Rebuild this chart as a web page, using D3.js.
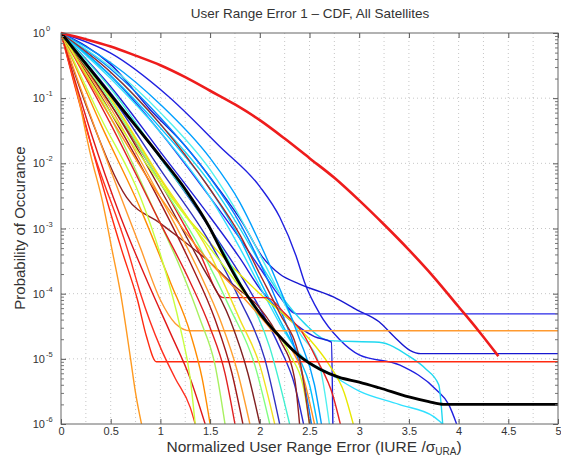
<!DOCTYPE html>
<html>
<head>
<meta charset="utf-8">
<script src="https://cdn.jsdelivr.net/npm/d3@7"></script>
<style>
  body { margin: 0; background: #fff; }
  svg { font-family: "Liberation Sans", Arial, sans-serif; }
</style>
</head>
<body>
<svg width="561" height="459"></svg>
<script>
// axis ticks
var xTicks = [0, 0.5, 1, 1.5, 2, 2.5, 3, 3.5, 4, 4.5, 5];
var xGrid = [0.25, 0.5, 0.75, 1, 1.25, 1.5, 1.75, 2, 2.25, 2.5, 2.75, 3, 3.25, 3.5, 3.75, 4, 4.25, 4.5, 4.75];
var yDecades = [1e-6, 1e-5, 1e-4, 1e-3, 1e-2, 1e-1, 1];
var yExponents = ["-6", "-5", "-4", "-3", "-2", "-1", "0"];

// theoretical gaussian curve (thick red)
var gaussX = [0, 0.25, 0.5, 0.75, 1, 1.25, 1.5, 1.75, 2, 2.25, 2.5, 2.75, 3, 3.25, 3.5, 3.75, 4, 4.2, 4.4];
var gaussP = [1, 0.8, 0.62, 0.45, 0.32, 0.21, 0.13, 0.08, 0.046, 0.024, 0.012, 0.006, 0.0027, 0.00115, 4.7e-4, 1.8e-4, 6.3e-5, 2.7e-5, 1.1e-5];

// mean of all satellites (thick black)
var meanX = [0, 0.5, 1.0, 1.25, 1.5, 1.6, 1.8, 2.0, 2.2, 2.4, 2.6, 2.8, 3.0, 3.2, 3.5, 3.7, 3.85, 5];
var meanP = [1, 0.112, 0.0126, 4e-3, 1e-3, 5e-4, 1.4e-4, 5e-5, 2.2e-5, 1.1e-5, 7e-6, 5.2e-6, 4.4e-6, 3.6e-6, 2.6e-6, 2.2e-6, 2e-6, 2e-6];

// individual satellites: colour + [x, p] points
var satColors = [
  "#2020e0", "#1818d0", "#2828e8", "#20d8f0", "#2020d8", "#30e0ff", "#00c0ff", "#2a2ad0",
  "#0080ff", "#50f0f0", "#e8e800", "#e82020", "#902020", "#ff2a10", "#ff3020", "#ff9a20",
  "#ff9a30", "#e01818", "#ff8c00", "#c8ff40", "#a8f060", "#e02020", "#a01818", "#ffa030",
  "#802020", "#80ff80", "#f0e020", "#3030c0", "#40f0d0", "#ff9020", "#d0ff30", "#00a0ff",
  "#a02828"
];
var satCurves = [
  [[0,1],[0.5,0.49],[1.07,0.11],[1.6,0.018],[2,4.4e-3],[2.2,1.5e-3],[2.37,3.6e-4],[2.45,1.5e-4],[2.6,5e-5],[2.8,2e-5],[3.0,1.15e-5],[3.41,8e-6],[3.78,3.3e-6],[3.9,2e-6],[3.98,1e-6]],
  [[0,1],[0.5,0.33],[0.9,0.066],[1.23,0.02],[1.57,4.4e-3],[1.83,1.2e-3],[2.03,3.6e-4],[2.2,2e-4],[2.4,1.4e-4],[2.74,8.9e-5],[2.98,5.6e-5],[3.2,3.7e-5],[3.35,2.2e-5],[3.51,1.35e-5],[3.62,1.2e-5],[5,1.2e-5]],
  [[0,1],[0.5,0.22],[1,0.03],[1.5,3e-3],[1.8,7e-4],[2.0,2.5e-4],[2.2,9e-5],[2.37,4.9e-5],[5,4.9e-5]],
  [[0,1],[0.5,0.25],[1,0.04],[1.5,5e-3],[1.8,1e-3],[2.0,3e-4],[2.2,1e-4],[2.45,3.5e-5],[2.7,1.9e-5],[3.2,1.8e-5],[3.5,1.1e-5],[3.67,7e-6],[3.8,4e-6],[3.84,1e-6]],
  [[0,1],[0.5,0.15],[1,0.015],[1.5,1.5e-3],[1.8,3.5e-4],[2.0,1.2e-4],[2.3,4e-5],[2.55,2.2e-5],[2.72,1.8e-5],[2.735,1e-6]],
  [[0,1],[0.5,0.2],[1,0.03],[1.5,3e-3],[1.8,5e-4],[2.0,1.3e-4],[2.2,3.5e-5],[2.4,1.2e-5],[2.7,6e-6],[3.0,3.2e-6],[3.4,2e-6],[3.75,1.3e-6],[3.84,1e-6]],
  [[0,1],[0.5,0.22],[1,0.035],[1.5,4e-3],[1.8,7e-4],[2.0,1.6e-4],[2.2,4e-5],[2.4,1e-5],[2.5,4e-6],[2.58,1e-6]],
  [[0,1],[0.5,0.12],[1,0.012],[1.5,1e-3],[1.8,2e-4],[2.0,6e-5],[2.2,1.5e-5],[2.35,4e-6],[2.44,1e-6]],
  [[0,1],[0.5,0.28],[1,0.05],[1.5,6e-3],[1.8,1.2e-3],[2.0,3e-4],[2.2,6e-5],[2.35,1.5e-5],[2.45,4e-6],[2.52,1e-6]],
  [[0,1],[0.5,0.3],[1,0.06],[1.5,8e-3],[1.8,1.5e-3],[2.0,4e-4],[2.2,1e-4],[2.4,2.5e-5],[2.6,8e-6],[2.7,1e-6]],
  [[0,1],[0.5,0.1],[0.83,0.015],[1.2,2e-3],[1.5,6e-4],[2.0,1e-4],[2.3,4e-5],[2.5,2e-5],[2.7,8e-6],[2.85,3e-6],[2.94,1e-6]],
  [[0,1],[0.5,0.08],[1,5e-3],[1.4,4e-4],[1.63,8.7e-5],[2.07,8.7e-5],[2.25,5e-5],[2.43,2.5e-5],[2.57,1e-5],[2.74,2.6e-6],[2.81,1e-6]],
  [[0,1],[0.3,0.05],[0.66,3e-3],[1.0,1.2e-3],[1.5,3e-4],[1.75,1.3e-4],[2.0,6e-5],[2.2,2e-5],[2.35,5e-6],[2.4,1e-6]],
  [[0,1],[0.3,0.02],[0.61,4.7e-4],[0.77,8e-5],[0.86,2.2e-5],[0.96,9e-6],[5,9e-6]],
  [[0,1],[0.3,0.02],[0.67,4.7e-4],[0.8,1e-4],[1.0,1.5e-5],[1.15,5e-6],[1.3,1.8e-6],[1.35,1e-6]],
  [[0,1],[0.15,0.15],[0.3,0.013],[0.42,2.5e-3],[0.51,5e-4],[0.6,1e-4],[0.7,1e-5],[0.75,3e-6],[0.81,1e-6]],
  [[0,1],[0.4,0.02],[0.8,5e-4],[1.0,8e-5],[1.15,3.5e-5],[1.3,2.7e-5],[5,2.7e-5]],
  [[0,1],[0.3,0.03],[0.6,1.5e-3],[0.9,1.2e-4],[1.1,2.5e-5],[1.3,5e-6],[1.45,1e-6]],
  [[0,1],[0.4,0.04],[0.8,2e-3],[1.1,1.5e-4],[1.3,2.5e-5],[1.42,5e-6],[1.5,1e-6]],
  [[0,1],[0.4,0.05],[0.8,3e-3],[1.0,4e-4],[1.2,3e-5],[1.3,5e-6],[1.35,1e-6]],
  [[0,1],[0.5,0.05],[0.9,2.5e-3],[1.2,2.5e-4],[1.4,4e-5],[1.55,8e-6],[1.65,1e-6]],
  [[0,1],[0.5,0.04],[1.0,1.2e-3],[1.3,1.5e-4],[1.5,3e-5],[1.65,6e-6],[1.75,1e-6]],
  [[0,1],[0.5,0.06],[1.0,2.5e-3],[1.3,3e-4],[1.55,4e-5],[1.72,6e-6],[1.83,1e-6]],
  [[0,1],[0.5,0.07],[1.0,3e-3],[1.4,2e-4],[1.6,4e-5],[1.78,6e-6],[1.9,1e-6]],
  [[0,1],[0.5,0.08],[1.0,4e-3],[1.4,3e-4],[1.7,4e-5],[1.88,6e-6],[2.0,1e-6]],
  [[0,1],[0.5,0.09],[1.0,5e-3],[1.4,5e-4],[1.7,6e-5],[1.95,8e-6],[2.1,1e-6]],
  [[0,1],[0.5,0.1],[1,6e-3],[1.5,4e-4],[1.8,4e-5],[2.0,8e-6],[2.15,1e-6]],
  [[0,1],[0.5,0.11],[1,8e-3],[1.5,6e-4],[1.8,8e-5],[2.05,1e-5],[2.2,1e-6]],
  [[0,1],[0.5,0.14],[1,0.012],[1.5,1e-3],[1.8,1.5e-4],[2.1,1.5e-5],[2.3,1e-6]],
  [[0,1],[0.5,0.05],[1.0,3e-3],[1.5,3e-4],[1.8,1e-4],[2.1,3e-5],[2.4,8e-6],[2.55,1e-6]],
  [[0,1],[0.5,0.06],[1.0,5e-3],[1.5,5e-4],[2.0,5e-5],[2.3,1.2e-5],[2.45,3e-6],[2.5,1e-6]],
  [[0,1],[0.5,0.35],[1,0.08],[1.5,0.012],[1.8,2.5e-3],[2.0,6e-4],[2.2,1.2e-4],[2.4,2e-5],[2.55,4e-6],[2.62,1e-6]],
  [[0,1],[0.5,0.25],[1,0.04],[1.5,4e-3],[1.8,8e-4],[2.0,2e-4],[2.2,5e-5],[2.4,1e-5],[2.5,1e-6]]
];

window.addEventListener("DOMContentLoaded", function () {
    drawChart();
});

function drawChart() {
    var svg = d3.select("svg"),
        left = 61, right = 558, top = 33, bottom = 424;

    var x = d3.scaleLinear().domain([0, 5]).range([left, right]);
    var y = d3.scaleLog().domain([1e-6, 1]).range([bottom, top]);

    // dotted grid
    var grid = svg.append("g").attr("stroke", "#b8b8b8").attr("stroke-width", 0.8)
        .attr("stroke-dasharray", "1,3");
    grid.selectAll(".gx").data(xGrid).enter().append("line")
        .attr("x1", function(d) { return x(d); }).attr("x2", function(d) { return x(d); })
        .attr("y1", top).attr("y2", bottom);
    grid.selectAll(".gy").data(yDecades.slice(1, 6)).enter().append("line")
        .attr("y1", function(d) { return y(d); }).attr("y2", function(d) { return y(d); })
        .attr("x1", left).attr("x2", right);

    // curves
    svg.append("clipPath").attr("id", "clip").append("rect")
        .attr("x", left).attr("y", top - 2).attr("width", right - left).attr("height", bottom - top + 2);
    var plot = svg.append("g").attr("clip-path", "url(#clip)");
    var line = d3.line()
        .x(function(d) { return x(d[0]); })
        .y(function(d) { return y(d[1]); })
        .curve(d3.curveMonotoneX);

    plot.selectAll(".sat").data(satCurves).enter().append("path")
        .attr("d", line)
        .attr("fill", "none")
        .attr("stroke", function(d, i) { return satColors[i]; })
        .attr("stroke-width", 1.4)
        .attr("stroke-linejoin", "round");

    var meanPts = meanX.map(function(v, i) { return [v, meanP[i]]; });
    plot.append("path").attr("d", line(meanPts))
        .attr("fill", "none").attr("stroke", "#000").attr("stroke-width", 2.8);

    var gaussPts = gaussX.map(function(v, i) { return [v, gaussP[i]]; });
    plot.append("path").attr("d", line(gaussPts))
        .attr("fill", "none").attr("stroke", "#ee1c1c").attr("stroke-width", 2.6);

    // axes, ticks inside like matlab
    var minor = [];
    yDecades.slice(0, 6).forEach(function(d) {
        for (var k = 2; k <= 9; k++) minor.push(d * k);
    });

    svg.append("g").attr("transform", "translate(0," + bottom + ")")
        .call(d3.axisBottom(x).tickValues(xTicks).tickSize(-5).tickPadding(3)
            .tickFormat(function(d) { return d; }))
        .call(function(g) { g.select(".domain").remove(); })
        .call(function(g) { g.selectAll("text").attr("font-size", 11).attr("fill", "#333"); })
        .call(function(g) { g.selectAll("line").attr("stroke", "#555"); });

    svg.append("g").attr("transform", "translate(0," + top + ")")
        .call(d3.axisTop(x).tickValues(xTicks).tickSize(-5).tickFormat(""))
        .call(function(g) { g.select(".domain").remove(); })
        .call(function(g) { g.selectAll("line").attr("stroke", "#555"); });

    [[left, d3.axisLeft], [right, d3.axisRight]].forEach(function(a) {
        svg.append("g").attr("transform", "translate(" + a[0] + ",0)")
            .call(a[1](y).tickValues(yDecades).tickSize(-5).tickFormat(""))
            .call(function(g) { g.select(".domain").remove(); })
            .call(function(g) { g.selectAll("line").attr("stroke", "#555"); });
        svg.append("g").attr("transform", "translate(" + a[0] + ",0)")
            .call(a[1](y).tickValues(minor).tickSize(-3).tickFormat(""))
            .call(function(g) { g.select(".domain").remove(); })
            .call(function(g) { g.selectAll("line").attr("stroke", "#777"); });
    });

    // y tick labels 10^n
    var yl = svg.append("g").attr("fill", "#333");
    yDecades.forEach(function(d, i) {
        yl.append("text")
            .attr("x", left - 16).attr("y", y(d) + 4)
            .attr("text-anchor", "end").attr("font-size", 11)
            .text("10");
        yl.append("text")
            .attr("x", left - 15).attr("y", y(d) - 2)
            .attr("font-size", 7.5)
            .text(yExponents[i]);
    });

    svg.append("rect")
        .attr("x", left).attr("y", top).attr("width", right - left).attr("height", bottom - top)
        .attr("fill", "none").attr("stroke", "#666").attr("stroke-width", 1);

    // title and labels
    svg.append("text")
        .attr("x", 310).attr("y", 18)
        .attr("text-anchor", "middle").attr("font-size", 13.5).attr("fill", "#333")
        .text("User Range Error 1 \u2013 CDF, All Satellites");

    var xl = svg.append("text")
        .attr("x", 314).attr("y", 452)
        .attr("text-anchor", "middle").attr("font-size", 15.5).attr("fill", "#333");
    xl.append("tspan").text("Normalized User Range Error (IURE /\u03c3");
    xl.append("tspan").attr("dy", 3).attr("font-size", 10).text("URA");
    xl.append("tspan").attr("dy", -3).text(")");

    svg.append("text")
        .attr("transform", "translate(25,228) rotate(-90)")
        .attr("text-anchor", "middle").attr("font-size", 15).attr("fill", "#333")
        .text("Probability of Occurance");
}
</script>
</body>
</html>
